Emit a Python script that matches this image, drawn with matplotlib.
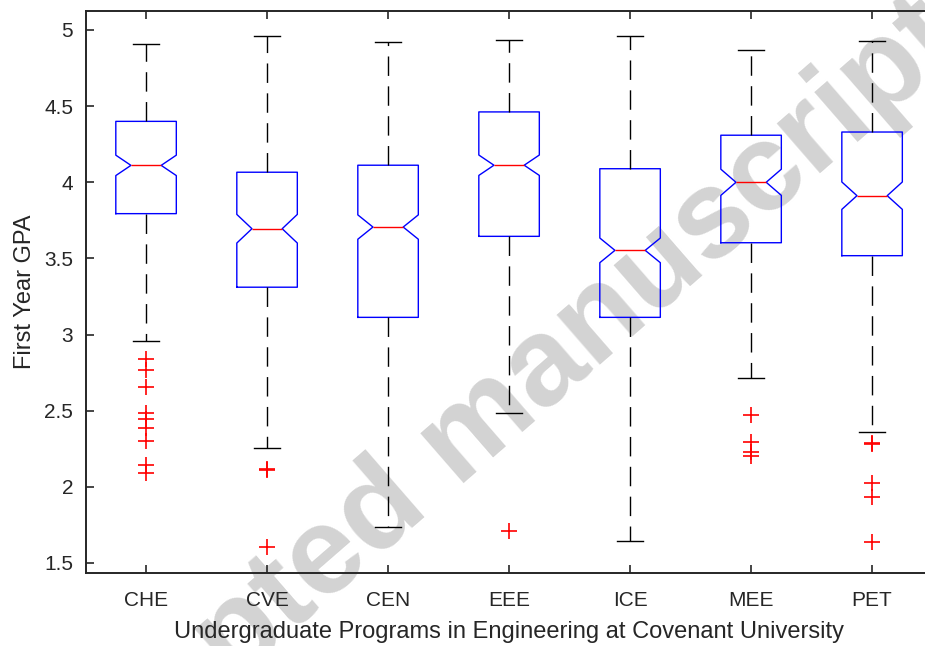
import matplotlib
matplotlib.use('Agg')
import matplotlib.pyplot as plt
import numpy as np

plt.rcParams['font.family'] = ['Liberation Sans', 'DejaVu Sans']

# programme summary stats (first year GPA)
programs = ['CHE', 'CVE', 'CEN', 'EEE', 'ICE', 'MEE', 'PET']
medians = [4.111, 3.695, 3.706, 4.112, 3.553, 4.000, 3.912]
q1 = [3.794, 3.311, 3.113, 3.645, 3.113, 3.603, 3.518]
q3 = [4.400, 4.066, 4.112, 4.462, 4.089, 4.309, 4.330]
whis_lo = [2.960, 2.253, 1.735, 2.483, 1.643, 2.713, 2.362]
whis_hi = [4.910, 4.961, 4.921, 4.934, 4.961, 4.869, 4.930]
notch_half = [0.067, 0.094, 0.080, 0.067, 0.081, 0.086, 0.090]
outliers = [
  [2.84, 2.77, 2.658, 2.487, 2.446, 2.385, 2.302, 2.142, 2.090],
  [2.11, 2.12, 1.603],
  [],
  [1.71],
  [],
  [2.472, 2.295, 2.231, 2.205],
  [2.28, 2.29, 2.023, 1.934, 1.640],
]
yticks = [1.5, 2, 2.5, 3, 3.5, 4, 4.5, 5]
ytick_labels = ['1.5', '2', '2.5', '3', '3.5', '4', '4.5', '5']

stats = []
for i, name in enumerate(programs):
  stats.append({
    'label': name,
    'med': medians[i],
    'q1': q1[i],
    'q3': q3[i],
    'whislo': whis_lo[i],
    'whishi': whis_hi[i],
    'cilo': medians[i] - notch_half[i],
    'cihi': medians[i] + notch_half[i],
    'fliers': np.array(outliers[i]),
  })

fig = plt.figure(figsize=(9.25, 6.46), dpi=100)
ax = fig.add_axes([0.0925, 0.113, 0.9157, 0.870])

# watermark sits behind the boxes
fig.text(0.5265, 0.2833, 'Accepted manuscript', fontsize=90, fontweight='bold',
         color='#d3d3d3', rotation=41, rotation_mode='anchor',
         ha='center', va='baseline', zorder=0)
ax.set_zorder(1)
ax.patch.set_alpha(0)

ax.bxp(stats, positions=np.arange(1, 8), widths=0.5, capwidths=0.21,
       shownotches=True, patch_artist=False,
       boxprops=dict(color='blue', linewidth=1.0),
       medianprops=dict(color='red', linewidth=1.0),
       whiskerprops=dict(color='black', linewidth=1.0, linestyle=(0, (14, 7.5))),
       capprops=dict(color='black', linewidth=1.0),
       flierprops=dict(marker='+', markeredgecolor='red', markersize=12,
                       markeredgewidth=1.2, linestyle='none'))

ax.set_xlim(0.5, 7.5)
ax.set_ylim(1.4343, 5.1248)
ax.set_yticks(yticks)
ax.set_yticklabels(ytick_labels)
ax.set_xticks(np.arange(1, 8))
ax.set_xticklabels(programs)

ax.tick_params(direction='in', length=6, width=1.2, top=True, right=True,
               labelsize=15, colors='#262626')
ax.tick_params(axis='y', pad=9)
ax.tick_params(axis='x', pad=13)
for sp in ax.spines.values():
  sp.set_linewidth(1.4)
  sp.set_color('#262626')

ax.set_xlabel('Undergraduate Programs in Engineering at Covenant University',
              fontsize=17, color='#262626', labelpad=8)
ax.set_ylabel('First Year GPA', fontsize=17, color='#262626', labelpad=6)

fig.savefig('out.png', dpi=100)
